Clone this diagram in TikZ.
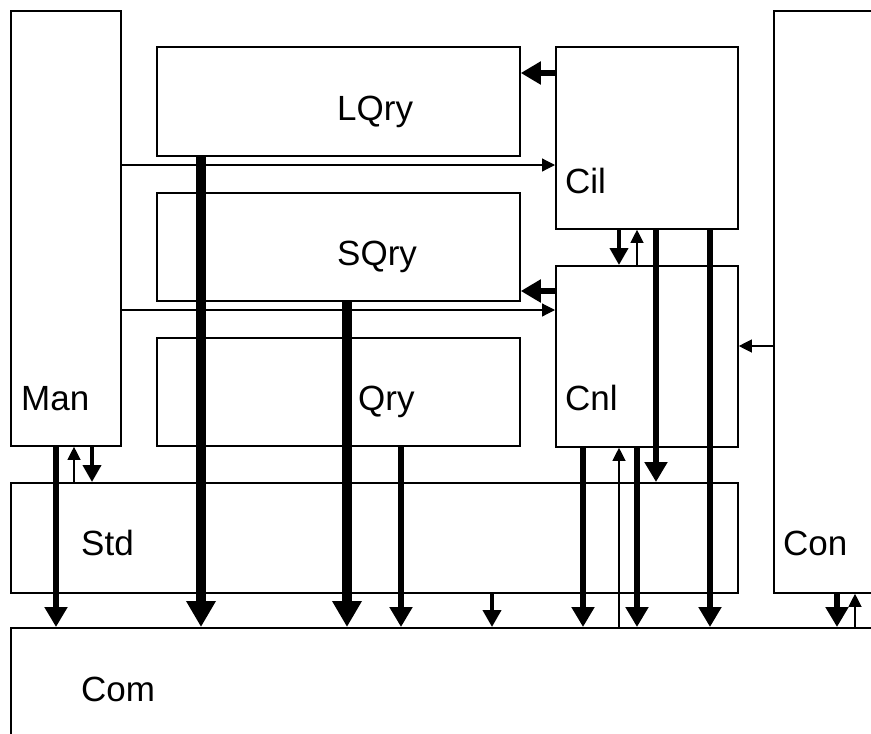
\documentclass[tikz,border=0pt]{standalone}
\usepackage{fontspec}
\setmainfont{Liberation Sans}
\usetikzlibrary{arrows.meta}
\tikzset{
  caixa/.style 2 args={draw, line width=1.8pt, anchor=north west, inner sep=0pt, minimum width=#1, minimum height=#2},
  rotulo/.style={anchor=base west, inner sep=0pt, font=\fontsize{35}{40}\selectfont},
  fina/.style={-{Triangle[length=13pt,width=13pt]}, line width=1.2pt},
  media/.style={-{Triangle[length=17pt,width=18pt]}, line width=4pt},
  grossa/.style={-{Triangle[length=20pt,width=22pt]}, line width=6pt},
  enorme/.style={-{Triangle[length=26pt,width=28pt]}, line width=10pt},
}

\begin{document}
\begin{tikzpicture}[x=1pt, y=-1pt]
  \clip (0,0) rectangle (871,734);
  % caixas
  \node[caixa={110pt}{435pt}] (man) at (10,10) {};
  \node[caixa={363pt}{109pt}] (lqry) at (156,46) {};
  \node[caixa={363pt}{108pt}] (sqry) at (156,192) {};
  \node[caixa={363pt}{108pt}] (qry) at (156,337) {};
  \node[caixa={182pt}{182pt}] (cil) at (555,46) {};
  \node[caixa={182pt}{181pt}] (cnl) at (555,265) {};
  \node[caixa={150pt}{582pt}] (con) at (773,10) {};
  \node[caixa={727pt}{110pt}] (std) at (10,482) {};
  \node[caixa={900pt}{150pt}] (com) at (10,627) {};
  % rotulos
  \node[rotulo] (tlqry) at (337,120) {LQry};
  \node[rotulo] (tsqry) at (337,265) {SQry};
  \node[rotulo] (tqry) at (358,410) {Qry};
  \node[rotulo] (tman) at (21,410) {Man};
  \node[rotulo] (tcil) at (565,193) {Cil};
  \node[rotulo] (tcnl) at (565,410) {Cnl};
  \node[rotulo] (tstd) at (81,555) {Std};
  \node[rotulo] (tcon) at (783,555) {Con};
  \node[rotulo] (tcom) at (81,701) {Com};
  % setas horizontais
  \draw[grossa] (cil.west |- 0,73) -- (lqry.east |- 0,73);
  \draw[fina] (man.east |- 0,165) -- (cil.west |- 0,165);
  \draw[grossa] (cnl.west |- 0,291) -- (sqry.east |- 0,291);
  \draw[fina] (man.east |- 0,310) -- (cnl.west |- 0,310);
  \draw[fina] (con.west |- 0,346) -- (cnl.east |- 0,346);
  % Cil e Cnl
  \draw[media] (619,0 |- cil.south) -- (619,0 |- cnl.north);
  \draw[fina] (637,0 |- cnl.north) -- (637,0 |- cil.south);
  \draw[grossa] (656,0 |- cil.south) -- (656,0 |- std.north);
  \draw[grossa] (710,0 |- cil.south) -- (710,0 |- com.north);
  % Man e Std
  \draw[grossa] (56,0 |- man.south) -- (56,0 |- com.north);
  \draw[fina] (74,0 |- std.north) -- (74,0 |- man.south);
  \draw[media] (92,0 |- man.south) -- (92,0 |- std.north);
  % para Com
  \draw[enorme] (201,0 |- lqry.south) -- (201,0 |- com.north);
  \draw[enorme] (347,0 |- sqry.south) -- (347,0 |- com.north);
  \draw[grossa] (401,0 |- qry.south) -- (401,0 |- com.north);
  \draw[media] (492,0 |- std.south) -- (492,0 |- com.north);
  \draw[grossa] (583,0 |- cnl.south) -- (583,0 |- com.north);
  \draw[fina] (619,0 |- com.north) -- (619,0 |- cnl.south);
  \draw[grossa] (637,0 |- cnl.south) -- (637,0 |- com.north);
  % Con
  \draw[grossa] (837,0 |- con.south) -- (837,0 |- com.north);
  \draw[fina] (855,0 |- com.north) -- (855,0 |- con.south);
\end{tikzpicture}
\end{document}
